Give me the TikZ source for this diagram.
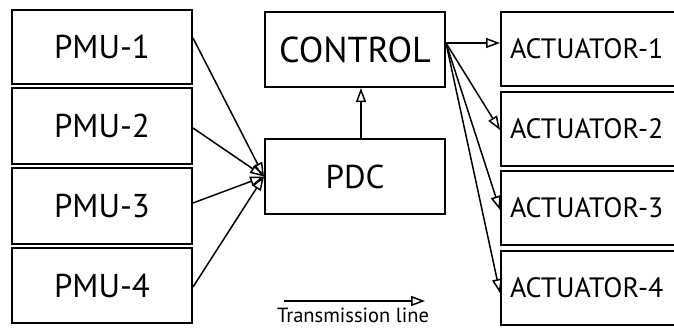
\documentclass[tikz,border=0pt]{standalone}
\usepackage{fontspec}
\setmainfont{PT Sans}
\usetikzlibrary{arrows.meta}
\tikzset{
  unitbox/.style={draw, line width=2pt, inner sep=0pt, minimum width=180pt},
  bigtext/.style={font=\fontsize{33}{36}\selectfont},
  ctrltext/.style={font=\fontsize{36}{40}\selectfont},
  acttext/.style={font=\fontsize{28}{30}\selectfont},
  actbox/.style={draw, line width=2pt, inner xsep=9pt, inner ysep=0pt,
    minimum width=199pt, text width=181pt, align=left, acttext},
  link/.style={line width=1.5pt, -{Triangle[open, length=14pt, width=10pt, line width=1.5pt]}}
}
\begin{document}
\begin{tikzpicture}[x=1pt, y=-1pt]
\useasboundingbox (0,0) rectangle (674,327);
\clip (0,0) rectangle (674,327);

% sources
\node[unitbox, minimum height=74pt, bigtext] (pmu1) at (102,47) {PMU-1};
\node[unitbox, minimum height=76pt, bigtext] (pmu2) at (102,126) {PMU-2};
\node[unitbox, minimum height=76pt, bigtext] (pmu3) at (102,206) {PMU-3};
\node[unitbox, minimum height=75pt, bigtext] (pmu4) at (102,285.5) {PMU-4};

% concentrator and controller
\node[unitbox, minimum height=75pt, ctrltext] (ctrl) at (355,49.5) {CONTROL};
\node[unitbox, minimum height=75pt, bigtext] (pdc) at (355,176.5) {PDC};

% actuators (running past the right edge)
\node[actbox, minimum height=74pt] (act1) at (600.5,49) {ACTUATOR-1};
\node[actbox, minimum height=74pt] (act2) at (600.5,129) {ACTUATOR-2};
\node[actbox, minimum height=74pt] (act3) at (600.5,208) {ACTUATOR-3};
\node[actbox, minimum height=74pt] (act4) at (600.5,288) {ACTUATOR-4};

% connector end points
\coordinate (s1) at ([yshift=9pt]pmu1.east);
\coordinate (s2) at ([yshift=-2pt]pmu2.east);
\coordinate (s3) at ([yshift=3pt]pmu3.east);
\coordinate (s4) at ([yshift=-1.5pt]pmu4.east);
\coordinate (cout) at ([yshift=6.5pt]ctrl.east);
\coordinate (in1) at (act1.west |- cout);
\coordinate (in2) at ([yshift=-1pt]act2.west);
\coordinate (in3) at ([yshift=-2pt]act3.west);
\coordinate (in4) at ([yshift=-5pt]act4.west);

\draw[link] (s1) -- (pdc.west);
\draw[link] (s2) -- (pdc.west);
\draw[link] (s3) -- (pdc.west);
\draw[link] (s4) -- (pdc.west);
\draw[link] ([xshift=6pt]pdc.north) -- ([xshift=6pt]ctrl.south);
\draw[link] (cout) -- (in1);
\draw[link] (cout) -- (in2);
\draw[link] (cout) -- (in3);
\draw[link] (cout) -- (in4);

% legend
\coordinate (lg1) at (284,301);
\coordinate (lg2) at (425,301);
\draw[link] (lg1) -- (lg2);
\node[font=\fontsize{20.5}{22}\selectfont, anchor=base, inner sep=0pt] (lgtext) at (353,322) {Transmission line};
\end{tikzpicture}
\end{document}
